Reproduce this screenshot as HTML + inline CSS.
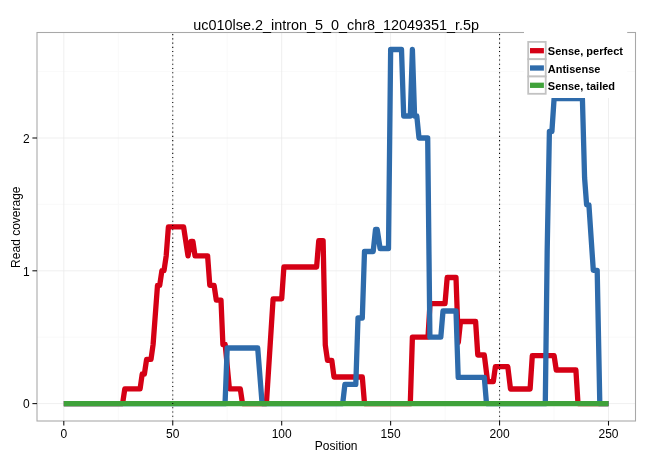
<!DOCTYPE html>
<html><head><meta charset="utf-8"><title>uc010lse.2_intron_5_0_chr8_12049351_r.5p</title>
<style>html,body{margin:0;padding:0;background:#fff;}svg{display:block;}text{font-family:"Liberation Sans",Arial,Helvetica,sans-serif;fill:#000;}</style>
</head><body>
<svg width="650" height="460" viewBox="0 0 650 460">
<rect width="650" height="460" fill="#fff"/>
<g stroke="#f8f8f8" stroke-width="0.8" fill="none">
<line x1="118.27" x2="118.27" y1="32.50" y2="421.00"/>
<line x1="227.21" x2="227.21" y1="32.50" y2="421.00"/>
<line x1="336.15" x2="336.15" y1="32.50" y2="421.00"/>
<line x1="445.09" x2="445.09" y1="32.50" y2="421.00"/>
<line x1="554.03" x2="554.03" y1="32.50" y2="421.00"/>
<line x1="37.00" x2="635.50" y1="337.20" y2="337.20"/>
<line x1="37.00" x2="635.50" y1="204.40" y2="204.40"/>
<line x1="37.00" x2="635.50" y1="71.60" y2="71.60"/>
</g>
<g stroke="#ebebeb" stroke-width="0.8" fill="none">
<line x1="63.80" x2="63.80" y1="32.50" y2="421.00"/>
<line x1="172.74" x2="172.74" y1="32.50" y2="421.00"/>
<line x1="281.68" x2="281.68" y1="32.50" y2="421.00"/>
<line x1="390.62" x2="390.62" y1="32.50" y2="421.00"/>
<line x1="499.56" x2="499.56" y1="32.50" y2="421.00"/>
<line x1="608.50" x2="608.50" y1="32.50" y2="421.00"/>
<line x1="37.00" x2="635.50" y1="403.60" y2="403.60"/>
<line x1="37.00" x2="635.50" y1="270.80" y2="270.80"/>
<line x1="37.00" x2="635.50" y1="138.00" y2="138.00"/>
</g>
<g fill="none" stroke-width="5.3" stroke-linejoin="round" stroke-linecap="butt">
<polyline stroke="#d50015" points="63.80,403.60 122.60,403.60 124.80,388.80 140.10,388.80 142.20,374.00 144.40,374.00 146.60,359.30 151.00,359.30 153.10,344.50 157.50,285.40 159.70,285.40 161.90,270.60 164.00,270.60 166.20,255.80 168.40,226.90 183.60,226.90 188.00,255.90 191.00,241.30 192.90,241.30 195.00,255.90 207.60,255.80 209.80,285.40 214.10,285.40 216.30,300.10 221.00,300.10 222.90,344.50 225.20,344.50 229.40,388.80 240.30,388.80 242.50,403.60 266.40,403.60 273.10,298.80 281.70,298.80 283.90,267.00 316.60,267.00 318.75,240.60 323.10,240.60 325.30,345.20 327.50,360.40 331.80,360.40 334.00,377.00 362.30,377.00 364.50,403.60 410.30,403.60 412.40,337.20 428.00,337.20 430.00,303.70 445.00,303.70 447.20,277.50 456.00,277.50 458.30,342.50 460.50,321.50 475.60,321.50 477.80,355.00 484.30,355.00 487.60,381.60 493.30,381.60 495.40,366.70 507.80,366.70 510.50,389.00 530.10,389.00 532.30,355.60 554.10,355.60 556.25,370.00 575.90,370.00 578.00,403.60 608.50,403.60"/>
<polyline stroke="#2e6bab" points="63.80,403.60 225.05,403.60 227.20,348.00 257.70,348.00 262.10,403.60 342.70,403.60 344.90,384.40 355.80,384.40 358.00,318.00 362.30,318.00 364.50,251.50 373.20,251.50 375.50,229.50 377.20,229.50 380.10,248.50 388.50,248.50 390.65,49.50 401.50,49.50 403.70,116.00 410.30,116.00 412.40,49.50 414.60,116.00 416.80,116.00 419.00,138.00 427.70,138.00 429.90,337.20 440.80,337.20 443.00,311.00 456.00,311.00 458.20,377.30 484.30,377.30 486.50,403.60 545.30,403.60 547.20,250.00 549.40,131.50 551.90,131.50 554.10,98.50 582.40,98.50 584.60,178.00 586.60,204.80 588.90,204.80 593.30,270.30 597.20,270.30 599.80,403.60 608.50,403.60"/>
<polyline stroke="#3fa23a" points="63.80,403.60 608.50,403.60"/>
</g>
<g stroke="#000" stroke-width="1.06" stroke-dasharray="1.06 3.18" fill="none">
<line x1="172.74" x2="172.74" y1="421.00" y2="32.50"/>
<line x1="499.56" x2="499.56" y1="421.00" y2="32.50"/>
</g>
<rect x="37.00" y="32.50" width="598.50" height="388.50" fill="none" stroke="#a8a8a8" stroke-width="1.07"/>
<rect x="524" y="24" width="103.2" height="74" fill="#fff"/>
<rect x="528.2" y="41.90" width="17.5" height="17.3" fill="#fff" stroke="#c2c2c2" stroke-width="1.8"/>
<rect x="528.2" y="59.20" width="17.5" height="17.3" fill="#fff" stroke="#c2c2c2" stroke-width="1.8"/>
<rect x="528.2" y="76.50" width="17.5" height="17.3" fill="#fff" stroke="#c2c2c2" stroke-width="1.8"/>
<line x1="530.0" x2="543.9" y1="50.70" y2="50.70" stroke="#d50015" stroke-width="5.3"/>
<text x="547.8" y="55.35" font-size="11px" font-weight="bold">Sense, perfect</text>
<line x1="530.0" x2="543.9" y1="68.00" y2="68.00" stroke="#2e6bab" stroke-width="5.3"/>
<text x="547.8" y="72.65" font-size="11px" font-weight="bold">Antisense</text>
<line x1="530.0" x2="543.9" y1="85.30" y2="85.30" stroke="#3fa23a" stroke-width="5.3"/>
<text x="547.8" y="89.95" font-size="11px" font-weight="bold">Sense, tailed</text>
<g stroke="#111" stroke-width="1.07" fill="none">
<line x1="63.80" x2="63.80" y1="421.00" y2="425.60"/>
<line x1="172.74" x2="172.74" y1="421.00" y2="425.60"/>
<line x1="281.68" x2="281.68" y1="421.00" y2="425.60"/>
<line x1="390.62" x2="390.62" y1="421.00" y2="425.60"/>
<line x1="499.56" x2="499.56" y1="421.00" y2="425.60"/>
<line x1="608.50" x2="608.50" y1="421.00" y2="425.60"/>
<line x1="32.40" x2="37.00" y1="403.60" y2="403.60"/>
<line x1="32.40" x2="37.00" y1="270.80" y2="270.80"/>
<line x1="32.40" x2="37.00" y1="138.00" y2="138.00"/>
</g>
<text x="63.80" y="437.8" font-size="12px" text-anchor="middle">0</text>
<text x="172.74" y="437.8" font-size="12px" text-anchor="middle">50</text>
<text x="281.68" y="437.8" font-size="12px" text-anchor="middle">100</text>
<text x="390.62" y="437.8" font-size="12px" text-anchor="middle">150</text>
<text x="499.56" y="437.8" font-size="12px" text-anchor="middle">200</text>
<text x="608.50" y="437.8" font-size="12px" text-anchor="middle">250</text>
<text x="29.6" y="407.70" font-size="12px" text-anchor="end">0</text>
<text x="29.6" y="275.80" font-size="12px" text-anchor="end">1</text>
<text x="29.6" y="143.00" font-size="12px" text-anchor="end">2</text>
<text x="336.2" y="449.7" font-size="12px" text-anchor="middle">Position</text>
<text transform="translate(19.6,227.2) rotate(-90)" font-size="12px" text-anchor="middle">Read coverage</text>
<text x="336.2" y="29.7" font-size="14.4px" text-anchor="middle">uc010lse.2_intron_5_0_chr8_12049351_r.5p</text>
</svg>
</body></html>
